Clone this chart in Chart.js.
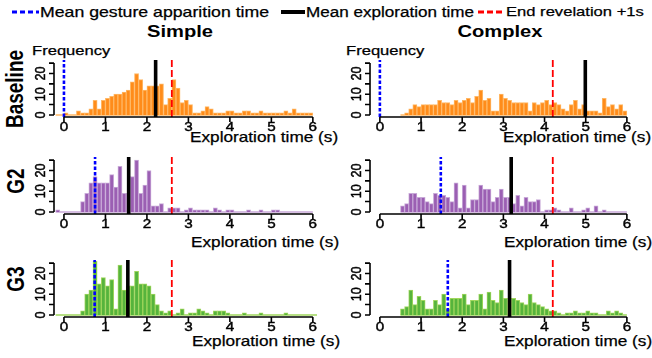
<!DOCTYPE html>
<html lang="en">
<head>
<meta charset="UTF-8">
<title>Exploration time histograms</title>
<script src="https://cdn.jsdelivr.net/npm/chart.js"></script>
<style>
  body { margin: 0; width: 652px; height: 358px; position: relative; overflow: hidden; background: #fff;
         font-family: "Liberation Sans", Arial, sans-serif; color: #000; }
  canvas.panel { position: absolute; }
  .t { position: absolute; white-space: nowrap; line-height: 1; transform-origin: left center;
       transform: translateY(-50%) scaleX(1.22); -webkit-text-stroke: 0.25px #000; }
  .c { position: absolute; white-space: nowrap; line-height: 1; transform-origin: center;
       transform: translate(-50%, -50%) scaleX(1.22); font-weight: bold; }
  .r { position: absolute; white-space: nowrap; line-height: 1; transform-origin: center;
       transform: translate(-50%, -50%) scaleX(1.22) rotate(-90deg); font-weight: bold; font-size: 19px; }
  .xl { font-size: 14.1px; }
  .sw { position: absolute; height: 3px; transform: translateY(-50%); }
</style>
</head>
<body>

<div class="sw" style="left:12px; top:12px; width:27px; background:repeating-linear-gradient(to right,#0000ff 0 5px,transparent 5px 8px);"></div>
<div class="t" style="left:40px; top:12px; font-size:14.5px;">Mean gesture apparition time</div>
<div class="sw" style="left:281px; top:12px; width:24px; height:4px; background:#000;"></div>
<div class="t" style="left:306px; top:12px; font-size:14px;">Mean exploration time</div>
<div class="sw" style="left:478px; top:12px; width:27px; background:repeating-linear-gradient(to right,#ff0000 0 6px,transparent 6px 9px);"></div>
<div class="t" style="left:506px; top:12px; font-size:13.6px;">End revelation +1s</div>

<div class="c" style="left:180px; top:31px; font-size:16.5px;">Simple</div>
<div class="c" style="left:500px; top:31px; font-size:16.5px;">Complex</div>

<div class="r" style="left:15px; top:89px;">Baseline</div>
<div class="r" style="left:16px; top:181px;">G2</div>
<div class="r" style="left:16px; top:279px;">G3</div>

<div class="t" style="left:32px; top:51px; font-size:13.6px;">Frequency</div>
<div class="t" style="left:346px; top:51px; font-size:13.6px;">Frequency</div>

<div class="t xl" style="left:190px; top:137px;">Exploration time (s)</div>
<div class="t xl" style="left:503px; top:137px;">Exploration time (s)</div>
<div class="t xl" style="left:191px; top:242px;">Exploration time (s)</div>
<div class="t xl" style="left:504px; top:242px;">Exploration time (s)</div>
<div class="t xl" style="left:192px; top:341px;">Exploration time (s)</div>
<div class="t xl" style="left:504px; top:341px;">Exploration time (s)</div>

<script>
// histogram bins are 0.1 s wide; each series starts at its own first bin
const binWidth = 0.1;
const xTicks = [0, 1, 2, 3, 4, 5, 6];
const yTicks = [0, 5, 10, 15, 20, 25];
const yTickLabels = [0, 10, 20];

// Simple gestures, start at -0.2 s
const baselineSimpleStart = -0.2;
const baselineSimple = [0, 0,
  1, 0, 0, 2, 1, 1, 3, 7, 3, 7,
  8, 9, 10, 10, 11, 12, 16, 20, 17, 12,
  14, 14, 14, 15, 5, 8, 17, 13, 6, 7,
  5, 1, 1, 2, 4, 3, 1, 1, 1, 2,
  2, 1, 1, 2, 2, 1, 1, 2, 1, 1,
  1, 1, 1, 2, 1, 3, 1, 1, 1, 1];
const g2SimpleStart = -0.2;
const g2Simple = [1, 0,
  0, 0, 0, 0, 5, 9, 14, 17, 14, 14,
  14, 18, 12, 22, 9, 9, 17, 25, 9, 13,
  20, 3, 3, 4, 0, 2, 2, 2, 0, 1,
  2, 1, 1, 1, 1, 0, 2, 1, 0, 1,
  1, 0, 0, 0, 1, 0, 0, 1, 0, 0,
  1, 1, 0, 0, 0, 0, 0, 0, 0, 0];
const g3SimpleStart = -0.2;
const g3Simple = [0, 0,
  0, 0, 0, 0, 2, 10, 12, 26, 15, 18,
  14, 17, 3, 24, 12, 14, 14, 21, 15, 15,
  14, 10, 5, 2, 1, 2, 0, 1, 3, 0,
  1, 1, 3, 2, 1, 0, 2, 2, 2, 1,
  0, 0, 0, 1, 0, 0, 0, 1, 0, 0,
  0, 0, 0, 1, 0, 0, 0, 0, 0, 0, 0];

// Complex gestures, start at 0.5 s
const baselineComplexStart = 0.5;
const baselineComplex = [
  0, 1, 3, 5, 4,
  5, 5, 5, 5, 7, 6, 6, 5, 7, 6,
  7, 8, 6, 9, 12, 7, 8, 2, 2, 10,
  8, 7, 6, 6, 6, 6, 2, 6, 5, 6,
  7, 5, 6, 5, 3, 2, 5, 7, 3, 5,
  2, 2, 2, 1, 8, 4, 5, 3, 5, 2];
const g2ComplexStart = 0.5;
const g2Complex = [
  3, 4, 9, 9, 7,
  7, 5, 4, 9, 8, 8, 7, 5, 14, 2,
  13, 2, 6, 6, 13, 11, 11, 5, 7, 11,
  7, 7, 4, 8, 3, 7, 5, 5, 6, 0,
  1, 1, 2, 1, 0, 0, 2, 0, 0, 1,
  2, 0, 3, 0, 1, 0, 0, 0, 0, 0];
const g3ComplexStart = 0.5;
const g3Complex = [
  3, 4, 12, 5, 9,
  7, 3, 3, 7, 5, 10, 3, 8, 8, 8,
  10, 5, 7, 7, 10, 3, 11, 7, 6, 12,
  8, 8, 8, 7, 6, 5, 10, 6, 5, 4,
  3, 2, 2, 1, 0, 1, 1, 2, 1, 1,
  2, 1, 1, 0, 0, 2, 1, 2, 1, 0];

// reference lines (s)
const meanGesture     = [0.0, 0.0, 0.75, 1.48, 0.74, 1.65];
const meanExploration = [2.21, 4.99, 1.56, 3.19, 1.54, 3.15];
const endRevelation   = [2.6, 4.2, 2.6, 4.2, 2.6, 4.2];

const panels = [
  { counts: baselineSimple,  start: baselineSimpleStart,  col: 0, row: 0, fill: '#ff8c1a', edge: '#ffb866' },
  { counts: baselineComplex, start: baselineComplexStart, col: 1, row: 0, fill: '#ff8c1a', edge: '#ffb866' },
  { counts: g2Simple,        start: g2SimpleStart,        col: 0, row: 1, fill: '#9b5fb3', edge: '#c8a9d8' },
  { counts: g2Complex,       start: g2ComplexStart,       col: 1, row: 1, fill: '#9b5fb3', edge: '#c8a9d8' },
  { counts: g3Simple,        start: g3SimpleStart,        col: 0, row: 2, fill: '#56b43c', edge: '#9fd65c' },
  { counts: g3Complex,       start: g3ComplexStart,       col: 1, row: 2, fill: '#56b43c', edge: '#9fd65c' }
];

// page layout of the plot regions
const colLeft = [54, 370], colRight = [317, 631];
const rowTop = [60, 157, 260], rowBottom = [117, 214, 317];
const xMin = -0.24, xMax = 6.1, yMin = -1, yMax = 26.5;
const pad = { left: 34, top: 4, right: 10, bottom: 20 };
const sx = 1.22;

const rAxes = {
  id: 'rAxes',
  afterDatasetsDraw(chart) {
    const { ctx, chartArea: a, scales: { x, y } } = chart;
    ctx.save();
    ctx.strokeStyle = '#000';
    ctx.lineWidth = 1.6;
    ctx.beginPath();
    ctx.moveTo(x.getPixelForValue(xTicks[0]), a.bottom);
    ctx.lineTo(x.getPixelForValue(xTicks[xTicks.length - 1]), a.bottom);
    xTicks.forEach(t => {
      const px = x.getPixelForValue(t);
      ctx.moveTo(px, a.bottom); ctx.lineTo(px, a.bottom + 5);
    });
    ctx.moveTo(a.left, y.getPixelForValue(yTicks[0]));
    ctx.lineTo(a.left, y.getPixelForValue(yTicks[yTicks.length - 1]));
    yTicks.forEach(t => {
      const py = y.getPixelForValue(t);
      ctx.moveTo(a.left, py); ctx.lineTo(a.left - 5, py);
    });
    ctx.stroke();

    // tick labels, slightly heavy like the original
    ctx.fillStyle = '#000';
    ctx.lineWidth = 0.4;
    ctx.font = '12.5px "Liberation Sans", Arial, sans-serif';
    ctx.textAlign = 'center';
    ctx.textBaseline = 'middle';
    xTicks.forEach(t => {
      ctx.save();
      ctx.translate(x.getPixelForValue(t), a.bottom + 11);
      ctx.scale(sx, 1);
      ctx.fillText(String(t), 0, 0);
      ctx.strokeText(String(t), 0, 0);
      ctx.restore();
    });
    yTickLabels.forEach(t => {
      ctx.save();
      ctx.translate(a.left - 13, y.getPixelForValue(t));
      ctx.scale(sx, 1);
      ctx.rotate(-Math.PI / 2);
      ctx.fillText(String(t), 0, 0);
      ctx.strokeText(String(t), 0, 0);
      ctx.restore();
    });
    ctx.restore();
  }
};

function vline(xv, color, width, dash) {
  return {
    type: 'line',
    data: [{ x: xv, y: yMin }, { x: xv, y: yMax }],
    borderColor: color, borderWidth: width, borderDash: dash,
    pointRadius: 0, order: 0, borderCapStyle: 'butt'
  };
}

panels.forEach((p, i) => {
  const cv = document.createElement('canvas');
  cv.className = 'panel';
  const w = colRight[p.col] - colLeft[p.col] + pad.left + pad.right;
  const h = rowBottom[p.row] - rowTop[p.row] + pad.top + pad.bottom;
  cv.width = w; cv.height = h;
  cv.style.left = (colLeft[p.col] - pad.left) + 'px';
  cv.style.top = (rowTop[p.row] - pad.top) + 'px';
  document.body.appendChild(cv);

  const bars = p.counts.map((c, k) => ({ x: p.start + (k + 0.5) * binWidth, y: c }));
  const lastEdge = p.start + p.counts.length * binWidth;

  new Chart(cv, {
    type: 'bar',
    data: {
      datasets: [
        vline(meanGesture[i], '#0000ff', 2.6, [3.5, 2]),
        vline(meanExploration[i], '#000000', 3.6, []),
        vline(endRevelation[i], '#ff0000', 1.8, [7, 3]),
        {
          type: 'bar', data: bars, backgroundColor: p.fill, borderColor: p.edge,
          borderWidth: 1, barPercentage: 1, categoryPercentage: 1, grouped: false, order: 1
        },
        {
          type: 'line', data: [{ x: p.start, y: 0 }, { x: lastEdge, y: 0 }],
          borderColor: p.edge, borderWidth: 1.5, pointRadius: 0, order: 2
        }
      ]
    },
    options: {
      responsive: false,
      animation: false,
      devicePixelRatio: 1,
      layout: { padding: pad, autoPadding: false },
      plugins: { legend: { display: false }, tooltip: { enabled: false } },
      scales: {
        x: { type: 'linear', min: xMin, max: xMax, offset: false, display: false },
        y: { type: 'linear', min: yMin, max: yMax, offset: false, display: false }
      }
    },
    plugins: [rAxes]
  });
});
</script>
</body>
</html>
